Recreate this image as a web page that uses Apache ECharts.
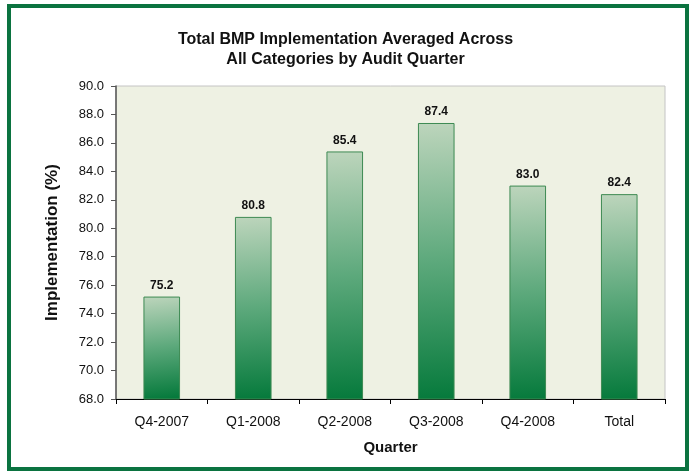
<!DOCTYPE html>
<html>
<head>
<meta charset="utf-8">
<script src="https://cdn.jsdelivr.net/npm/echarts@6/dist/echarts.min.js"></script>
<style>
  html, body { margin: 0; padding: 0; background: #fff; }
  #chart { width: 691px; height: 472px; }
</style>
</head>
<body>
<div id="chart"></div>
<script>
const quarters = ['Q4-2007', 'Q1-2008', 'Q2-2008', 'Q3-2008', 'Q4-2008', 'Total']
const implementation = [75.2, 80.8, 85.4, 87.4, 83.0, 82.4]
const yMin = 68
const yMax = 90
const yStep = 2

const chart = echarts.init(document.getElementById('chart'))

const font = 'Liberation Sans, Arial, sans-serif'

const option = {
  animation: false,
  backgroundColor: '#fff',
  textStyle: { fontFamily: font },
  title: {
    text: 'Total BMP Implementation Averaged Across\nAll Categories by Audit Quarter',
    left: 'center',
    top: 25,
    textStyle: { fontSize: 16, fontWeight: 'bold', color: '#111', lineHeight: 20, fontFamily: font }
  },
  graphic: [
    {
      type: 'rect',
      shape: { x: 9, y: 6, width: 678, height: 463 },
      style: { fill: 'none', stroke: '#0b7340', lineWidth: 4 },
      z: 100
    }
  ],
  grid: {
    left: 116, right: 26, top: 86, bottom: 73,
    show: true,
    backgroundColor: '#eef1e3',
    borderColor: '#c4c4c4',
    borderWidth: 1
  },
  xAxis: {
    type: 'category',
    data: quarters,
    name: 'Quarter',
    nameLocation: 'middle',
    nameGap: 41,
    nameTextStyle: { fontSize: 15, fontWeight: 'bold', color: '#111', fontFamily: font },
    axisLine: { lineStyle: { color: '#000', width: 1 } },
    axisTick: { show: true, length: 5, lineStyle: { color: '#000' } },
    axisLabel: { fontSize: 14, color: '#111', margin: 16, fontFamily: font }
  },
  yAxis: {
    type: 'value',
    min: yMin,
    max: yMax,
    interval: yStep,
    name: 'Implementation (%)',
    nameLocation: 'middle',
    nameGap: 55,
    nameTextStyle: { fontSize: 17, fontWeight: 'bold', color: '#111', fontFamily: font },
    axisLine: { show: true, lineStyle: { color: '#555', width: 1.5 } },
    axisTick: { show: true, length: 5, lineStyle: { color: '#555' } },
    axisLabel: {
      fontSize: 13, color: '#111', margin: 12, fontFamily: font,
      formatter: v => v.toFixed(1)
    },
    splitLine: { show: false }
  },
  series: [
    {
      type: 'bar',
      data: implementation,
      barWidth: '40%',
      itemStyle: {
        color: new echarts.graphic.LinearGradient(0, 0, 0.3, 1, [
          { offset: 0, color: '#bdd5bc' },
          { offset: 0.5, color: '#5da97c' },
          { offset: 1, color: '#067a3c' }
        ]),
        borderColor: '#3d8a52',
        borderWidth: 1
      },
      label: {
        show: true,
        position: 'top',
        distance: 5,
        fontSize: 12,
        fontWeight: 'bold',
        color: '#111',
        fontFamily: font,
        formatter: p => p.value.toFixed(1)
      }
    }
  ]
}

chart.setOption(option)
</script>
</body>
</html>
